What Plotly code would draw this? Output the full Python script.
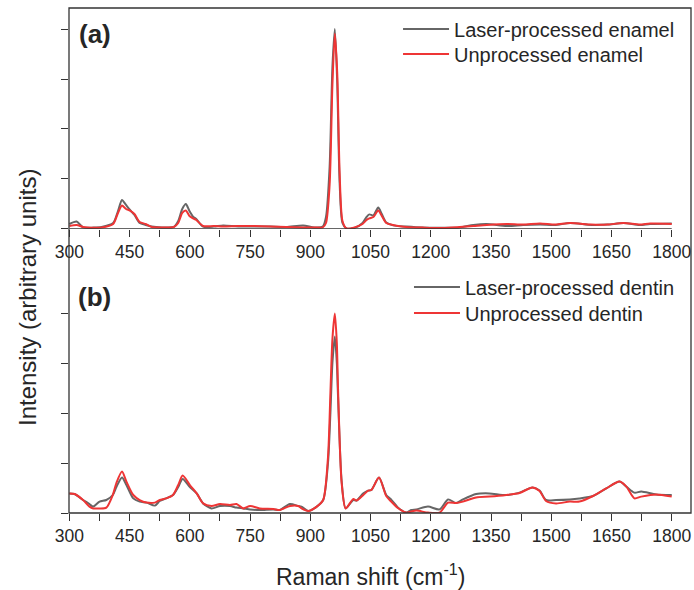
import plotly.graph_objects as go

# ---------------- data ----------------
wn_a = [300, 318, 334, 360, 380, 409, 421, 431, 441, 451, 462, 475, 490, 505, 530, 560, 571, 581, 590, 599,
        608, 616, 633, 660, 683, 720, 760, 800, 840, 882, 910, 931, 939, 948, 955, 961, 967, 973, 980, 990,
        1010, 1030, 1040, 1047, 1057, 1069, 1078, 1089, 1106, 1139, 1180, 1230, 1272, 1306, 1339, 1389, 1430,
        1472, 1510, 1547, 1600, 1640, 1680, 1720, 1746, 1800]
laser_enamel = [0.025, 0.037, 0.008, 0.007, 0.010, 0.030, 0.090, 0.145, 0.120, 0.095, 0.070, 0.030, 0.020, 0.012,
                0.008, 0.010, 0.040, 0.100, 0.125, 0.090, 0.062, 0.050, 0.012, 0.012, 0.018, 0.013, 0.013, 0.012,
                0.010, 0.018, 0.008, 0.012, 0.060, 0.310, 0.810, 1.000, 0.730, 0.230, 0.030, 0.003, 0.005, 0.030,
                0.060, 0.073, 0.068, 0.107, 0.075, 0.032, 0.018, 0.012, 0.007, 0.006, 0.008, 0.020, 0.025, 0.015,
                0.020, 0.022, 0.020, 0.030, 0.020, 0.022, 0.030, 0.020, 0.025, 0.028]
unproc_enamel = [0.015, 0.020, 0.010, 0.006, 0.007, 0.025, 0.080, 0.117, 0.100, 0.092, 0.075, 0.035, 0.025, 0.010,
                 0.008, 0.010, 0.030, 0.080, 0.092, 0.065, 0.053, 0.045, 0.015, 0.015, 0.013, 0.015, 0.015, 0.013,
                 0.010, 0.008, 0.008, 0.008, 0.030, 0.220, 0.720, 0.978, 0.780, 0.280, 0.040, 0.003, 0.008, 0.025,
                 0.045, 0.053, 0.060, 0.092, 0.065, 0.030, 0.020, 0.010, 0.007, 0.005, 0.010, 0.015, 0.020, 0.025,
                 0.022, 0.028, 0.022, 0.030, 0.022, 0.022, 0.030, 0.022, 0.027, 0.025]

wn_b = [300, 313, 334, 350, 359, 375, 392, 408, 417, 431, 442, 459, 475, 492, 513, 525, 541, 558, 571, 582,
        600, 617, 633, 654, 675, 700, 716, 733, 750, 774, 808, 824, 849, 870, 878, 895, 916, 932, 944, 950,
        955, 961, 966, 969, 978, 988, 1007, 1015, 1032, 1044, 1052, 1071, 1089, 1100, 1118, 1139, 1151, 1164,
        1193, 1222, 1243, 1263, 1280, 1313, 1346, 1388, 1421, 1453, 1471, 1487, 1512, 1546, 1570, 1604, 1637,
        1670, 1687, 1707, 1724, 1761, 1800]
laser_dentin = [0.098, 0.095, 0.065, 0.045, 0.032, 0.057, 0.065, 0.090, 0.130, 0.178, 0.140, 0.073, 0.057, 0.052,
                0.037, 0.060, 0.073, 0.090, 0.130, 0.170, 0.130, 0.098, 0.048, 0.023, 0.035, 0.035, 0.027, 0.023,
                0.018, 0.015, 0.018, 0.015, 0.045, 0.035, 0.032, 0.010, 0.032, 0.065, 0.250, 0.500, 0.750, 0.882,
                0.750, 0.580, 0.160, 0.023, 0.065, 0.062, 0.098, 0.112, 0.115, 0.177, 0.090, 0.070, 0.028, 0.002,
                0.015, 0.018, 0.032, 0.018, 0.068, 0.050, 0.068, 0.095, 0.098, 0.090, 0.102, 0.128, 0.112, 0.065,
                0.065, 0.068, 0.073, 0.085, 0.123, 0.157, 0.132, 0.102, 0.107, 0.093, 0.090]
unproc_dentin = [0.098, 0.095, 0.065, 0.032, 0.023, 0.023, 0.027, 0.090, 0.150, 0.207, 0.157, 0.090, 0.065, 0.052,
                 0.052, 0.065, 0.073, 0.090, 0.140, 0.187, 0.140, 0.098, 0.048, 0.035, 0.045, 0.040, 0.045, 0.023,
                 0.035, 0.023, 0.020, 0.015, 0.035, 0.035, 0.023, 0.010, 0.032, 0.065, 0.280, 0.600, 0.870, 0.998,
                 0.850, 0.620, 0.150, 0.023, 0.070, 0.062, 0.090, 0.112, 0.115, 0.177, 0.085, 0.060, 0.025, 0.002,
                 0.007, 0.012, 0.002, 0.002, 0.052, 0.050, 0.057, 0.078, 0.082, 0.090, 0.100, 0.128, 0.110, 0.060,
                 0.048, 0.057, 0.057, 0.085, 0.123, 0.157, 0.132, 0.073, 0.082, 0.093, 0.082]

x_ticks = [300, 450, 600, 750, 900, 1050, 1200, 1350, 1500, 1650, 1800]
y_ticks = [0, 0.25, 0.5, 0.75, 1.0]

# ---------------- styling ----------------
GRAY = "#666666"
RED = "#ee3535"
AX = "#333333"
TXT = "#262626"
FONT = "Liberation Sans, Arial, sans-serif"

fig = go.Figure()
series = [
    (wn_a, laser_enamel, "Laser-processed enamel", GRAY, "x", "y", "legend"),
    (wn_a, unproc_enamel, "Unprocessed enamel", RED, "x", "y", "legend2"),
    (wn_b, laser_dentin, "Laser-processed dentin", GRAY, "x2", "y2", "legend3"),
    (wn_b, unproc_dentin, "Unprocessed dentin", RED, "x2", "y2", "legend4"),
]
for xs, ys, name, col, xa, ya, lg in series:
    fig.add_trace(go.Scatter(x=xs, y=ys, name=name, mode="lines",
                             line=dict(color=col, width=2, shape="spline", smoothing=0.7),
                             xaxis=xa, yaxis=ya, legend=lg))

xr = [299, 1848]
xcommon = dict(range=xr, tickvals=x_ticks, ticks="outside", ticklen=7, tickwidth=1, tickcolor=AX,
               showline=False, showgrid=False, zeroline=False,
               tickfont=dict(family=FONT, size=17.5, color=TXT),
               minor=dict(dtick=75, tick0=300, ticks="outside", ticklen=7, tickwidth=1, tickcolor=AX,
                          showgrid=False))
ycommon = dict(tickvals=y_ticks, ticks="outside", ticklen=7, tickwidth=1, tickcolor=AX,
               showticklabels=False, showline=False, showgrid=False, zeroline=False)


def leg(ypos, xpos):
    return dict(x=xpos, y=ypos, xanchor="left", yanchor="middle", bgcolor="rgba(0,0,0,0)",
                font=dict(family=FONT, size=20, color=TXT), itemwidth=46)


fig.update_layout(
    width=694, height=590,
    margin=dict(l=69, r=3, t=8, b=77),
    paper_bgcolor="white", plot_bgcolor="white",
    font=dict(family=FONT, color=TXT),
    xaxis=dict(domain=[0, 1], anchor="y", **xcommon),
    yaxis=dict(domain=[0.5624, 1.0], anchor="x", range=[0, 1.105], **ycommon),
    xaxis2=dict(domain=[0, 1], anchor="y2", **xcommon),
    yaxis2=dict(domain=[0, 0.495], anchor="x2", range=[0, 1.25], **ycommon),
    legend=leg(0.9584, 0.529),
    legend2=leg(0.9089, 0.529),
    legend3=leg(0.4475, 0.5466),
    legend4=leg(0.3960, 0.5466),
    showlegend=True,
)

# frame around both panels and the top panel's x-axis line over the data span
fig.add_shape(type="rect", xref="paper", yref="paper", x0=0, y0=0, x1=1, y1=1,
              line=dict(color=AX, width=1.3), layer="above")
fig.add_shape(type="line", xref="x", yref="y", x0=min(wn_a), x1=max(wn_a), y0=0, y1=0,
              line=dict(color=AX, width=1.3), layer="above")

fig.add_annotation(text="<b>(a)</b>", xref="paper", yref="paper", x=0.041, y=0.9485,
                   xanchor="center", yanchor="middle",
                   showarrow=False, font=dict(family=FONT, size=26, color=TXT))
fig.add_annotation(text="<b>(b)</b>", xref="paper", yref="paper", x=0.041, y=0.4277,
                   xanchor="center", yanchor="middle",
                   showarrow=False, font=dict(family=FONT, size=26, color=TXT))
fig.add_annotation(text="Raman shift (cm<sup>-1</sup>)", xref="paper", yref="paper", x=0.4847, y=-0.123,
                   xanchor="center", yanchor="middle",
                   showarrow=False, font=dict(family=FONT, size=23, color=TXT))
fig.add_annotation(text="Intensity (arbitrary units)", xref="paper", yref="paper", x=-0.0675, y=0.4257,
                   xanchor="center", yanchor="middle",
                   showarrow=False, textangle=-90, font=dict(family=FONT, size=24, color=TXT))

fig.write_html("out.html", config={"displayModeBar": False},
               post_script="document.body.style.margin='0';document.body.style.overflow='hidden';")
